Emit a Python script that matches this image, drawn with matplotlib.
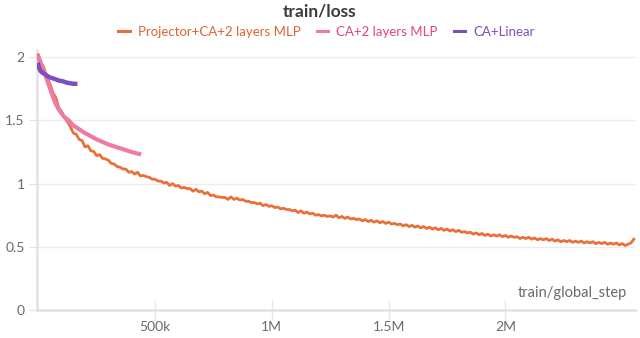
import matplotlib
matplotlib.use("Agg")
import matplotlib.pyplot as plt
from matplotlib.lines import Line2D
from matplotlib.ticker import FuncFormatter

# ---- data ----
orange_steps_k = [i * 12.5 for i in range(205)]   # 0 .. 2550k
orange_loss = [
    2.02, 1.96, 1.91, 1.84, 1.79, 1.72, 1.68, 1.60,
    1.57, 1.52, 1.49, 1.45, 1.40, 1.39, 1.35, 1.34,
    1.29, 1.30, 1.26, 1.255, 1.22, 1.23, 1.20, 1.195,
    1.185, 1.16, 1.155, 1.135, 1.13, 1.115, 1.115, 1.09,
    1.095, 1.075, 1.09, 1.06, 1.065, 1.055, 1.05, 1.035,
    1.035, 1.02, 1.02, 1.005, 1.01, 0.985, 1.00, 0.98,
    0.985, 0.965, 0.97, 0.96, 0.96, 0.94, 0.955, 0.935,
    0.94, 0.92, 0.93, 0.905, 0.91, 0.895, 0.895, 0.89,
    0.89, 0.875, 0.895, 0.875, 0.885, 0.87, 0.875, 0.86,
    0.86, 0.85, 0.85, 0.84, 0.845, 0.825, 0.835, 0.82,
    0.825, 0.81, 0.815, 0.80, 0.805, 0.795, 0.795, 0.785,
    0.79, 0.77, 0.785, 0.765, 0.775, 0.76, 0.765, 0.75,
    0.755, 0.745, 0.75, 0.74, 0.745, 0.735, 0.75, 0.73,
    0.74, 0.725, 0.735, 0.72, 0.725, 0.715, 0.72, 0.705,
    0.715, 0.70, 0.71, 0.695, 0.705, 0.69, 0.70, 0.685,
    0.695, 0.68, 0.685, 0.675, 0.68, 0.665, 0.675, 0.66,
    0.67, 0.655, 0.665, 0.65, 0.66, 0.645, 0.655, 0.64,
    0.65, 0.635, 0.645, 0.63, 0.64, 0.625, 0.635, 0.62,
    0.63, 0.615, 0.62, 0.61, 0.615, 0.60, 0.61, 0.595,
    0.605, 0.59, 0.60, 0.585, 0.595, 0.585, 0.595, 0.58,
    0.59, 0.575, 0.585, 0.575, 0.58, 0.565, 0.575, 0.565,
    0.575, 0.56, 0.57, 0.555, 0.565, 0.555, 0.565, 0.55,
    0.56, 0.545, 0.555, 0.54, 0.55, 0.54, 0.55, 0.535,
    0.545, 0.535, 0.545, 0.53, 0.54, 0.53, 0.54, 0.525,
    0.535, 0.525, 0.535, 0.52, 0.53, 0.52, 0.53, 0.515,
    0.525, 0.51, 0.52, 0.53, 0.56,
]

pink_steps_k = [0, 10, 20, 30, 45, 60, 75, 90, 110, 130, 150, 175, 200, 225,
                250, 275, 300, 325, 350, 375, 400, 420, 432]
pink_loss = [2.00, 1.95, 1.90, 1.86, 1.78, 1.70, 1.63, 1.58, 1.53, 1.50,
             1.46, 1.43, 1.40, 1.375, 1.35, 1.33, 1.31, 1.295, 1.28, 1.265,
             1.25, 1.24, 1.235]

purple_steps_k = [0, 5, 10, 20, 30, 40, 50, 60, 75, 90, 105, 120, 135, 150, 158]
purple_loss = [1.94, 1.91, 1.89, 1.875, 1.865, 1.85, 1.84, 1.835, 1.825,
               1.815, 1.81, 1.80, 1.795, 1.79, 1.79]

series_names = ["Projector+CA+2 layers MLP", "CA+2 layers MLP", "CA+Linear"]
line_colors = ["#E8703A", "#EF7BA4", "#7B4FC0"]
text_colors = ["#DE6430", "#E5457D", "#7B4FC0"]

yticks = [0, 0.5, 1, 1.5, 2]
xticks = [500000, 1000000, 1500000, 2000000]
xtick_labels = ["500k", "1M", "1.5M", "2M"]

plt.rcParams['font.family'] = ['Lato', 'DejaVu Sans']

fig = plt.figure(figsize=(6.4, 3.38), dpi=100)
ax = fig.add_axes([0.058, 0.083, 0.936, 0.77])

grid_c = "#ececec"
tick_c = "#6a6a6a"

ax.plot([s * 1000 for s in orange_steps_k], orange_loss, color=line_colors[0], lw=2.0, zorder=3)
ax.plot([s * 1000 for s in pink_steps_k], pink_loss, color=line_colors[1], lw=3.0, zorder=4)
ax.plot([s * 1000 for s in purple_steps_k], purple_loss, color=line_colors[2], lw=3.2, zorder=5)

ax.set_xlim(-5000, 2560000)
ax.set_ylim(0, 2.06)
ax.set_yticks(yticks)
ax.yaxis.set_major_formatter(FuncFormatter(lambda v, p: ("%g" % v)))
ax.set_xticks(xticks)
ax.set_xticklabels(xtick_labels)
ax.grid(axis="y", color=grid_c, lw=1.0)
ax.set_axisbelow(True)
for s in ["top", "right"]:
    ax.spines[s].set_visible(False)
for s in ["left", "bottom"]:
    ax.spines[s].set_color("#e2e2e2")
    ax.spines[s].set_linewidth(1.8)
ax.tick_params(axis="y", length=6, color="#e2e2e2", labelcolor=tick_c, labelsize=10, pad=3)
ax.tick_params(axis="x", direction="inout", length=14, width=1.0, color="#e8e8e8",
               labelcolor=tick_c, labelsize=10, pad=1)

ax.text(0.985, 0.04, "train/global_step", transform=ax.transAxes, ha="right", va="bottom",
        color=tick_c, fontsize=10.5)

fig.text(0.5, 0.965, "train/loss", ha="center", va="center", fontsize=12.5, fontweight="bold",
         color="#3b3b3b")

handles = [Line2D([0], [0], color=c, lw=2.2) for c in line_colors]
leg = fig.legend(handles, series_names, loc="center", bbox_to_anchor=(0.51, 0.905), ncol=3,
                 frameon=False, fontsize=9.5, handlelength=0.9, handletextpad=0.6,
                 columnspacing=1.2, labelcolor=text_colors)

fig.savefig("out.png", dpi=100)
